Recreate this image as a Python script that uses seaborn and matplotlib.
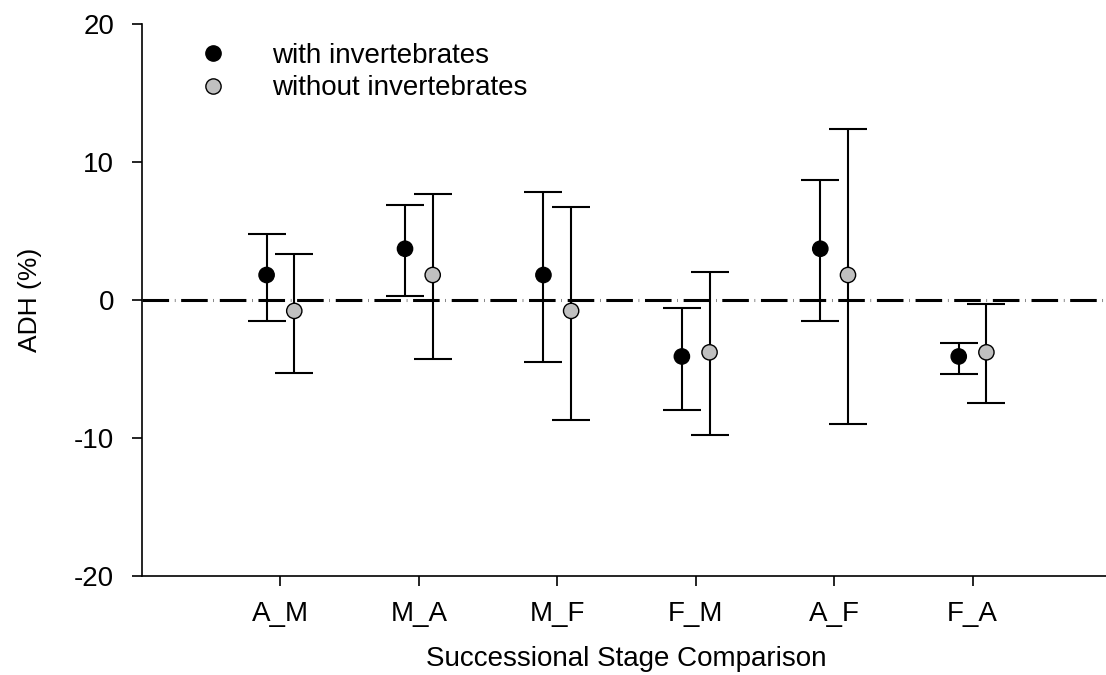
import matplotlib
matplotlib.use("Agg")
import matplotlib.pyplot as plt
from matplotlib.lines import Line2D
import seaborn as sns
import pandas as pd
import numpy as np

categories = ["A_M", "M_A", "M_F", "F_M", "A_F", "F_A"]
series_names = ["with invertebrates", "without invertebrates"]
with_mean = [1.8, 3.7, 1.8, -4.1, 3.7, -4.1]
with_low = [-1.5, 0.3, -4.5, -8.0, -1.5, -5.4]
with_high = [4.8, 6.9, 7.8, -0.6, 8.7, -3.1]
without_mean = [-0.8, 1.8, -0.8, -3.8, 1.8, -3.8]
without_low = [-5.3, -4.3, -8.7, -9.8, -9.0, -7.5]
without_high = [3.3, 7.7, 6.7, 2.0, 12.4, -0.3]
yticks = [-20, -10, 0, 10, 20]

sns.set_style("ticks")
plt.rcParams["font.family"] = ["Liberation Sans", "DejaVu Sans"]
plt.rcParams["text.color"] = "black"
plt.rcParams["axes.labelcolor"] = "black"
plt.rcParams["xtick.labelcolor"] = "black"
plt.rcParams["ytick.labelcolor"] = "black"

fig = plt.figure(figsize=(11.06, 6.75), dpi=100)
ax = fig.add_axes([142/1106, 99/675, 969/1106, 552.3/675])

idx = np.arange(len(categories))
offsets = [-0.1, 0.1]
colors = ["black", "#c0c0c0"]
rows = []
for s, (name, m, lo, hi) in enumerate([
        (series_names[0], with_mean, with_low, with_high),
        (series_names[1], without_mean, without_low, without_high)]):
    for i, c in enumerate(categories):
        rows.append(dict(series=name, cat=c, x=idx[i] + offsets[s],
                         mean=m[i], low=lo[i], high=hi[i]))
df = pd.DataFrame(rows)

# zero reference line
ax.axhline(0, color="black", lw=2.2, dashes=(8.7, 1.9, 0.15, 1.9), zorder=1)

for s, name in enumerate(series_names):
    d = df[df.series == name]
    ax.errorbar(d.x, d["mean"], yerr=[d["mean"] - d["low"], d["high"] - d["mean"]],
                fmt="none", ecolor="black", elinewidth=1.5, capsize=14,
                capthick=1.5, zorder=2)

sns.scatterplot(data=df, x="x", y="mean", hue="series", palette=colors,
                hue_order=series_names, s=121, edgecolor="black",
                linewidth=1.0, ax=ax, legend=False, zorder=3)

ax.set_xlim(-1, 6)
ax.set_ylim(-20, 20)
ax.set_xticks(idx)
ax.set_xticklabels(categories)
ax.set_yticks(yticks)
ax.set_yticklabels([str(t) for t in yticks])
ax.tick_params(axis="both", direction="out", length=7, width=1.2,
               labelsize=20, color="black", labelcolor="black")
ax.tick_params(axis="y", pad=13)
ax.tick_params(axis="x", pad=11)
sns.despine(ax=ax, top=True, right=True)
for sp in ["left", "bottom"]:
    ax.spines[sp].set_linewidth(1.2)
    ax.spines[sp].set_color("black")

ax.set_xlabel("Successional Stage Comparison", fontsize=20, labelpad=14,
              color="black")
ax.set_ylabel("ADH (%)", fontsize=19, labelpad=23, color="black")

handles = [Line2D([], [], ls="none", marker="o", markersize=11,
                  markerfacecolor=colors[0], markeredgecolor="black"),
           Line2D([], [], ls="none", marker="o", markersize=11,
                  markerfacecolor=colors[1], markeredgecolor="black")]
fig.legend(handles, series_names, loc="upper left",
           bbox_to_anchor=(198.8/1106, (675 - 43) / 675), frameon=False,
           fontsize=20, handlelength=1.0, handletextpad=1.63,
           labelspacing=0.23, borderpad=0, borderaxespad=0,
           labelcolor="black")

fig.savefig("out.png", dpi=100)
